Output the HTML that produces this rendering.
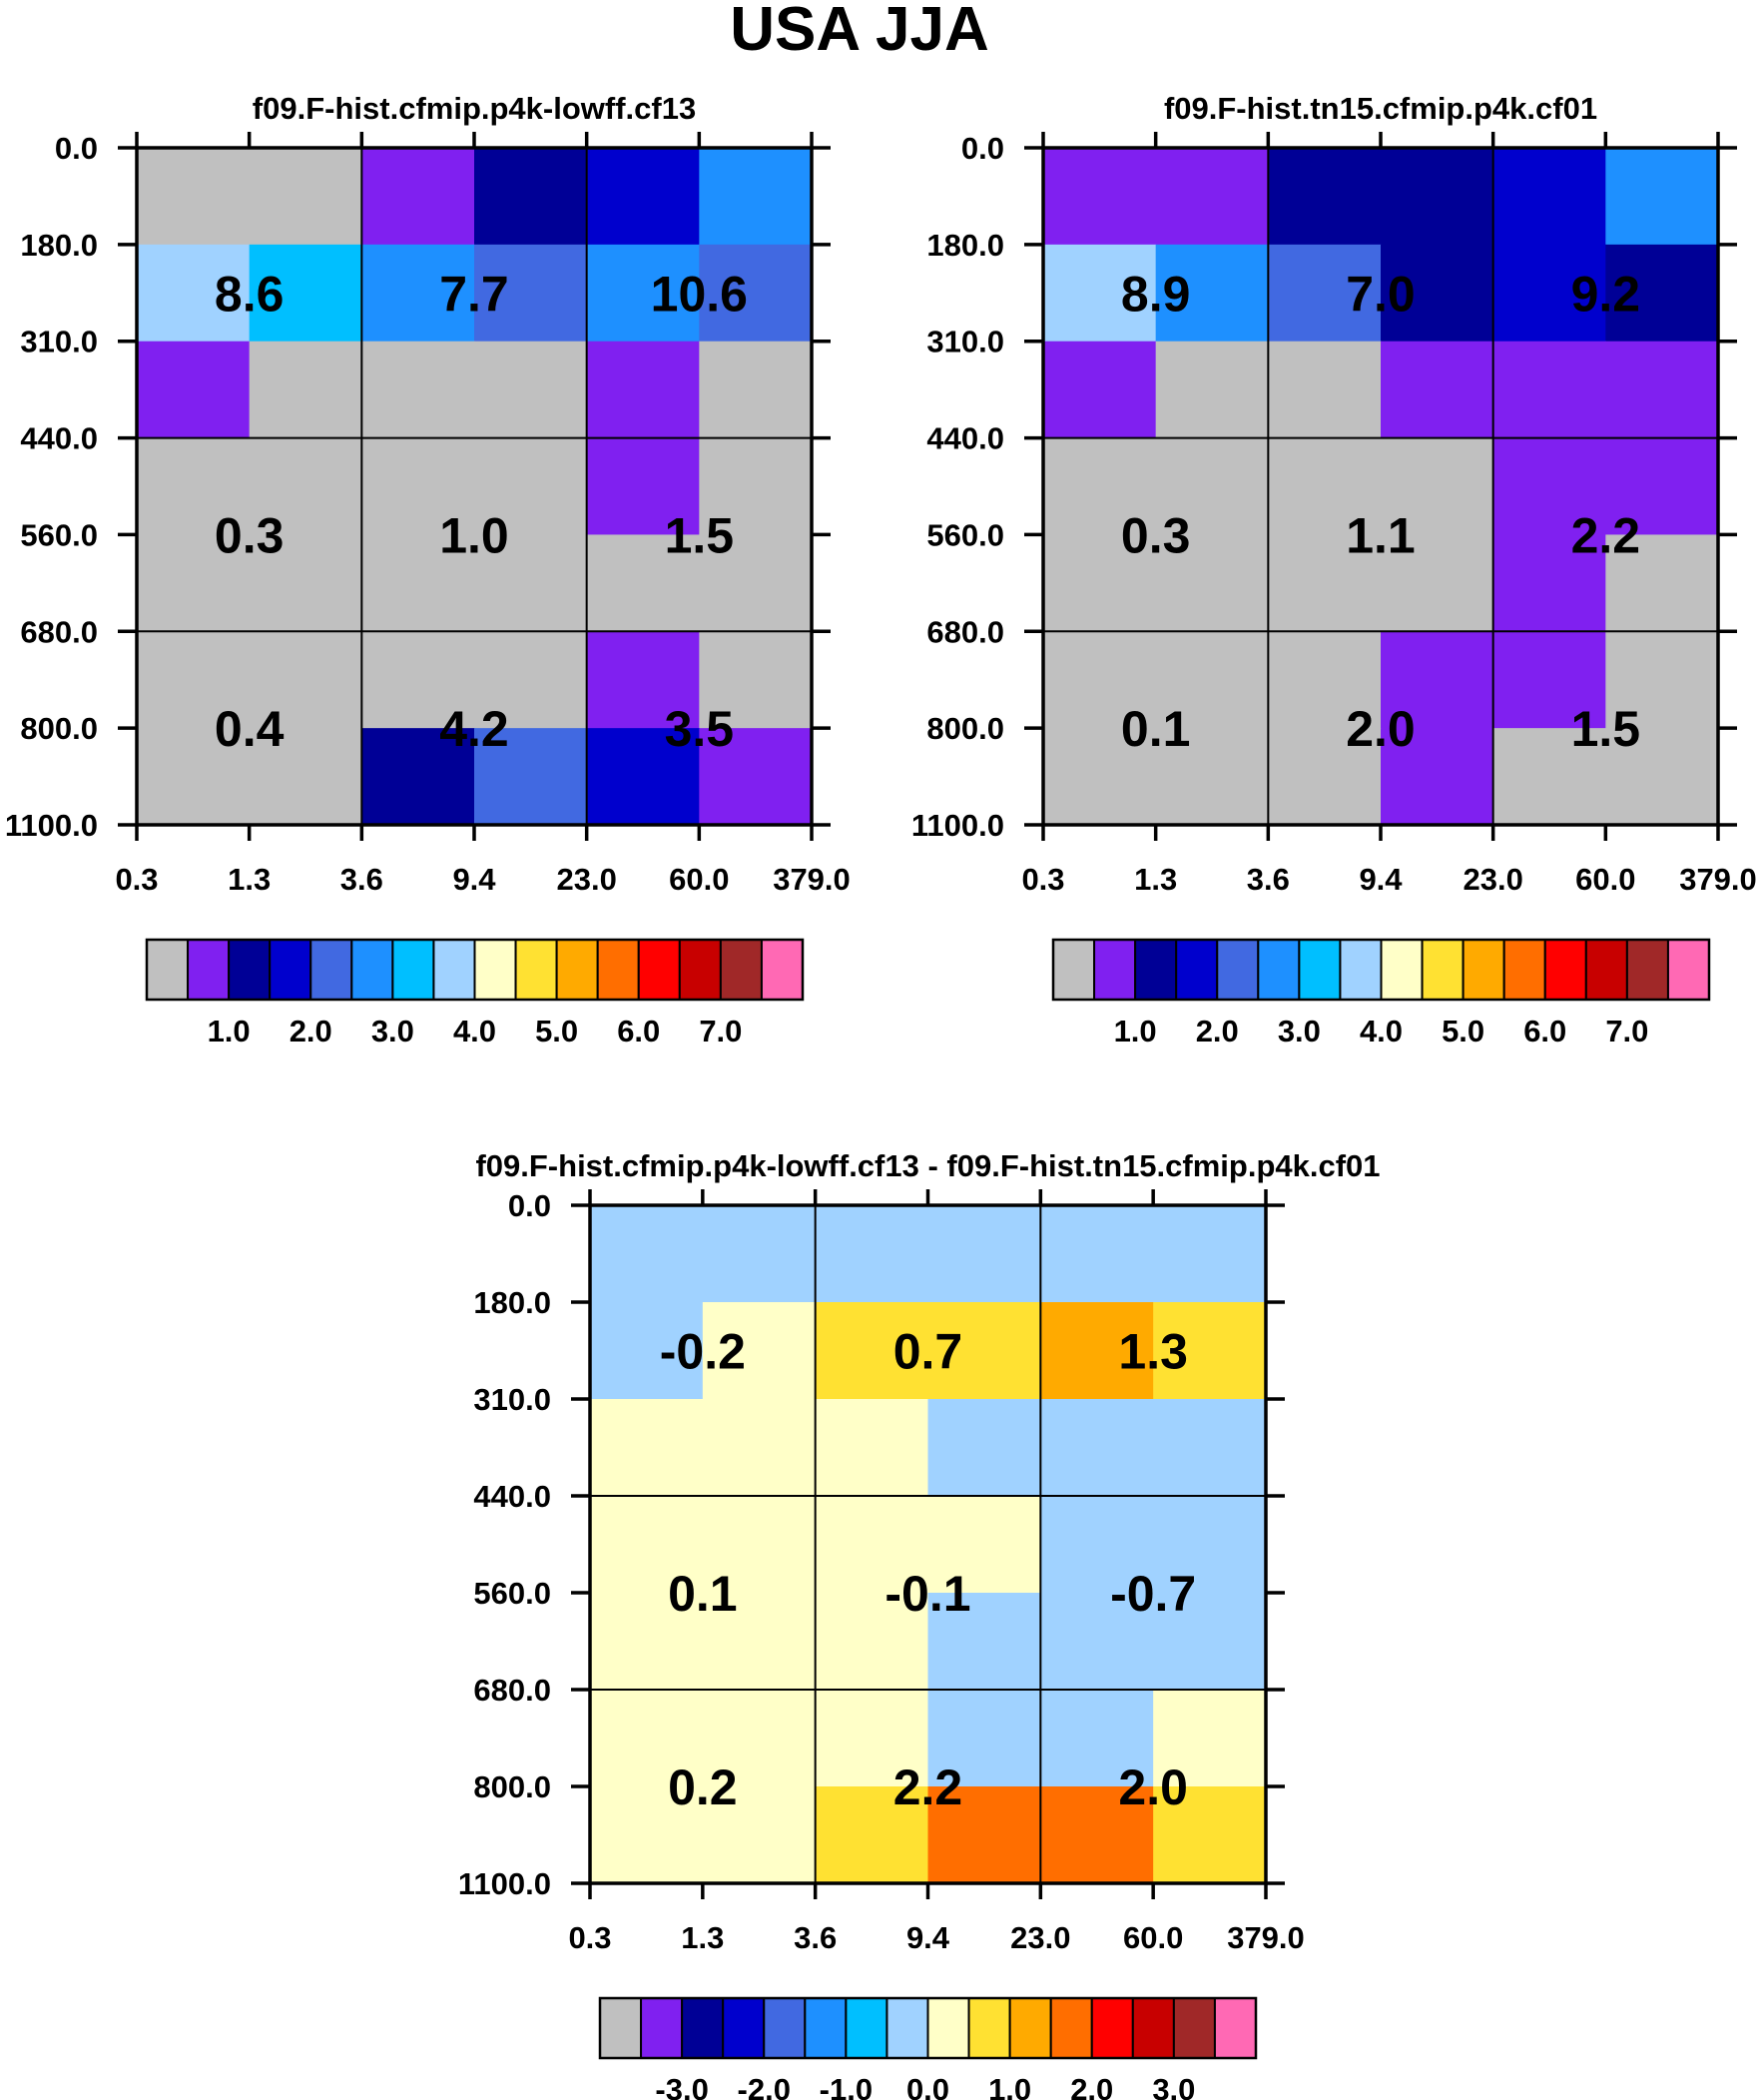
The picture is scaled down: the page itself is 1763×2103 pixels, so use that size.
<!DOCTYPE html>
<html><head><meta charset="utf-8"><style>
html,body{margin:0;padding:0;background:#fff}
svg{display:block}
text{font-family:"Liberation Sans",Arial,sans-serif;font-weight:bold;fill:#000}
</style></head><body>
<svg id="chart" width="1763" height="2103" viewBox="0 0 1763 2103">
<text x="861" y="50" font-size="62" text-anchor="middle">USA JJA</text>
</svg>
<script>
// color table (index -> color)
const palette = ["#c0c0c0","#8020f0","#000096","#0000cd","#4169e1","#1e90ff","#00bfff","#a0d2ff","#ffffc8","#ffe132","#ffaa00","#ff6e00","#ff0000","#c80000","#a02828","#ff69b4"];
const xTickLabels = ["0.3","1.3","3.6","9.4","23.0","60.0","379.0"];
const yTickLabels = ["0.0","180.0","310.0","440.0","560.0","680.0","800.0","1100.0"];
const cbLabels1 = ["1.0","2.0","3.0","4.0","5.0","6.0","7.0"];
const cbLabels3 = ["-3.0","-2.0","-1.0","0.0","1.0","2.0","3.0"];
// cell color indices, rows top->bottom, cols left->right
const cells1 = [
 [0,0,1,2,3,5],
 [7,6,5,4,5,4],
 [1,0,0,0,1,0],
 [0,0,0,0,1,0],
 [0,0,0,0,0,0],
 [0,0,0,0,1,0],
 [0,0,2,4,3,1]];
const cells2 = [
 [1,1,2,2,3,5],
 [7,5,4,2,3,2],
 [1,0,0,1,1,1],
 [0,0,0,0,1,1],
 [0,0,0,0,1,0],
 [0,0,0,1,1,0],
 [0,0,0,1,0,0]];
const cells3 = [
 [7,7,7,7,7,7],
 [7,8,9,9,10,9],
 [8,8,8,7,7,7],
 [8,8,8,8,7,7],
 [8,8,8,7,7,7],
 [8,8,8,7,7,8],
 [8,8,9,11,11,9]];
const values1 = [["8.6","7.7","10.6"],["0.3","1.0","1.5"],["0.4","4.2","3.5"]];
const values2 = [["8.9","7.0","9.2"],["0.3","1.1","2.2"],["0.1","2.0","1.5"]];
const values3 = [["-0.2","0.7","1.3"],["0.1","-0.1","-0.7"],["0.2","2.2","2.0"]];

const NS="http://www.w3.org/2000/svg";
const svg=document.getElementById('chart');
function mk(tag,attrs,parent){const e=document.createElementNS(NS,tag);for(const k in attrs)e.setAttribute(k,attrs[k]);(parent||svg).appendChild(e);return e;}

function panel(id,L,T,W,H,title,cells,values,cbLabels){
  const g=mk('g',{});
  
  
  const nc=xTickLabels.length-1, nr=yTickLabels.length-1;
  const xs=i=>L+i*W/nc, ys=j=>T+j*H/nr;
  const t=mk('text',{x:L+W/2,y:T-29,'font-size':31,'text-anchor':'middle'},g);
  t.textContent=title;
  
  
  cells.forEach((row,j)=>row.forEach((ci,i)=>{
    const r=mk('rect',{x:xs(i),y:ys(j),width:W/nc+0.6,height:H/nr+0.6,fill:palette[ci]},g);
    
    
  }));
  [2,4].forEach(i=>mk('line',{x1:xs(i),y1:T,x2:xs(i),y2:T+H,stroke:'#000','stroke-width':2},g));
  [3,5].forEach(j=>mk('line',{x1:L,y1:ys(j),x2:L+W,y2:ys(j),stroke:'#000','stroke-width':2},g));
  const colC=[1,3,5], rowC=[1.5,4,6];
  values.forEach((row,j)=>row.forEach((v,i)=>{
    const tx=mk('text',{x:xs(colC[i]),y:ys(rowC[j])+18,'font-size':50,'text-anchor':'middle'},g);
    tx.textContent=v;
    
    
  }));
  mk('rect',{x:L,y:T,width:W,height:H,fill:'none',stroke:'#000','stroke-width':3.5},g);
  xTickLabels.forEach((lab,i)=>{
    mk('line',{x1:xs(i),y1:T,x2:xs(i),y2:T-16,stroke:'#000','stroke-width':3.5},g);
    mk('line',{x1:xs(i),y1:T+H,x2:xs(i),y2:T+H+16,stroke:'#000','stroke-width':3.5},g);
    const tx=mk('text',{x:xs(i),y:T+H+65,'font-size':31,'text-anchor':'middle'},g);
    tx.textContent=lab;
    
    
  });
  yTickLabels.forEach((lab,j)=>{
    mk('line',{x1:L-19,y1:ys(j),x2:L,y2:ys(j),stroke:'#000','stroke-width':3.5},g);
    mk('line',{x1:L+W,y1:ys(j),x2:L+W+19,y2:ys(j),stroke:'#000','stroke-width':3.5},g);
    const tx=mk('text',{x:L-39,y:ys(j)+11,'font-size':31,'text-anchor':'end'},g);
    tx.textContent=lab;
    
    
  });
  const cbL=L+10, cbT=T+H+115, cbW=657, cbH=60, bw=cbW/palette.length;
  palette.forEach((c,k)=>{
    const r=mk('rect',{x:cbL+k*bw,y:cbT,width:bw,height:cbH,fill:c,stroke:'#000','stroke-width':2},g);
    
    
  });
  mk('rect',{x:cbL,y:cbT,width:cbW,height:cbH,fill:'none',stroke:'#000','stroke-width':2.5},g);
  cbLabels.forEach((lab,k)=>{
    const tx=mk('text',{x:cbL+(2*k+2)*bw,y:cbT+cbH+42,'font-size':31,'text-anchor':'middle'},g);
    tx.textContent=lab;
    
    
  });
}
panel('panel-cf13',137,148,676,678,'f09.F-hist.cfmip.p4k-lowff.cf13',cells1,values1,cbLabels1);
panel('panel-cf01',1045,148,676,678,'f09.F-hist.tn15.cfmip.p4k.cf01',cells2,values2,cbLabels1);
panel('panel-diff',591,1207,677,679,'f09.F-hist.cfmip.p4k-lowff.cf13 - f09.F-hist.tn15.cfmip.p4k.cf01',cells3,values3,cbLabels3);
</script>
</body></html>
